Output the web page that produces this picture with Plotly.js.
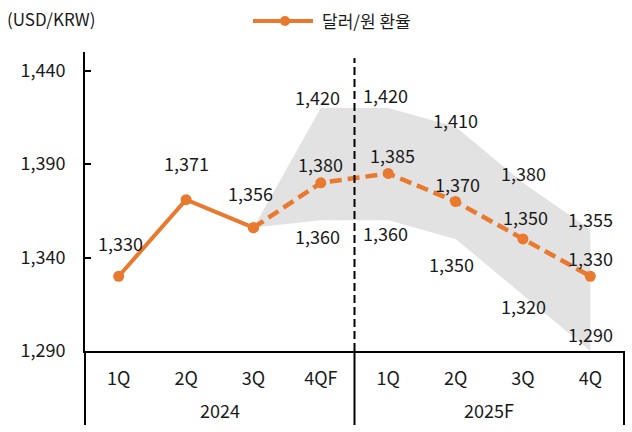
<!DOCTYPE html>
<html>
<head>
<meta charset="utf-8">
<script src="https://cdn.plot.ly/plotly-3.0.1.min.js"></script>
<style>html,body{margin:0;padding:0;background:#fff;}#chart{width:632px;height:432px;}</style>
</head>
<body>
<div id="chart"></div>
<script>
// ---- data ----
const quarters = ["1Q", "2Q", "3Q", "4QF", "1Q", "2Q", "3Q", "4Q"];
const years = ["2024", "2025F"];
const seriesName = "달러/원 환율";
const actualIdx = [0, 1, 2];
const actualRate = [1330, 1371, 1356];
const forecastIdx = [2, 3, 4, 5, 6, 7];
const forecastRate = [1356, 1380, 1385, 1370, 1350, 1330];
const bandUpper = [1356, 1420, 1420, 1410, 1380, 1355];
const bandLower = [1356, 1360, 1360, 1350, 1320, 1290];
const yTicks = [1290, 1340, 1390, 1440];

// ---- styling ----
const ORANGE = "#E8792F";
const FONT = "Noto Sans CJK KR, Noto Sans, sans-serif";
const FS = 18;
const TXT = "#1a1a1a";
// pixel offsets for labels (style only)
const rateLabelShift = [33, 37, 35, 19, 18, 18, 22, 18];
const rateLabelXShift = [2, 0, -3, 0, 4, 2, 3, 0];
const upperLabelShift = [null, 11, 13, 7, 10, 11];
const upperLabelXShift = [null, -3, -3, 0, 1, 0];
const lowerLabelShift = [null, -16, -13, -25, -11, 17];
const lowerLabelXShift = [null, -3, -3, -4, 1, 0];

const fmt = v => v.toLocaleString("en-US");

const traces = [
  { x: forecastIdx, y: bandLower, mode: "lines", line: {width: 0}, hoverinfo: "skip", showlegend: false },
  { x: forecastIdx, y: bandUpper, mode: "lines", line: {width: 0}, fill: "tonexty", fillcolor: "#E2E2E2", hoverinfo: "skip", showlegend: false },
  { x: forecastIdx, y: forecastRate, mode: "lines+markers", line: {color: ORANGE, width: 4.5, dash: "12px,6px"}, marker: {color: ORANGE, size: 11}, showlegend: false },
  { x: actualIdx, y: actualRate, name: seriesName, mode: "lines+markers", line: {color: ORANGE, width: 4}, marker: {color: ORANGE, size: 11}, showlegend: false }
];

const PT = 52, PB = 351, PH = PB - PT;
const px = v => (v - 85) / 539;
const py = v => (PB - v) / PH;

const annotations = [];
const allIdx = actualIdx.concat(forecastIdx.slice(1));
const allRate = actualRate.concat(forecastRate.slice(1));
allIdx.forEach((xi, i) => {
  annotations.push({ x: xi, y: allRate[i], text: fmt(allRate[i]), showarrow: false, xref: "x", yref: "y",
    yshift: rateLabelShift[i], xshift: rateLabelXShift[i], font: {size: FS, color: TXT, family: FONT} });
});
forecastIdx.forEach((xi, i) => {
  if (i === 0) return;
  annotations.push({ x: xi, y: bandUpper[i], text: fmt(bandUpper[i]), showarrow: false, xref: "x", yref: "y",
    yshift: upperLabelShift[i], xshift: upperLabelXShift[i], font: {size: FS, color: TXT, family: FONT} });
  annotations.push({ x: xi, y: bandLower[i], text: fmt(bandLower[i]), showarrow: false, xref: "x", yref: "y",
    yshift: lowerLabelShift[i], xshift: lowerLabelXShift[i], font: {size: FS, color: TXT, family: FONT} });
});
years.forEach((yr, i) => {
  annotations.push({ x: 0.25 + 0.5 * i, y: py(410), xref: "paper", yref: "paper", text: yr, showarrow: false,
    xanchor: "center", yanchor: "middle", font: {size: FS, color: TXT, family: FONT} });
});
// y-axis unit label
annotations.push({ x: px(5), y: py(18), xref: "paper", yref: "paper", text: "(USD/KRW)", showarrow: false,
  xanchor: "left", yanchor: "middle", font: {size: FS - 1, color: TXT, family: FONT} });
// custom legend text
annotations.push({ x: px(320), y: py(20), xref: "paper", yref: "paper", text: seriesName, showarrow: false,
  xanchor: "left", yanchor: "middle", font: {size: FS - 1, color: TXT, family: FONT} });

const shapes = [
  { type: "line", xref: "paper", yref: "paper", x0: 0, x1: 0, y0: py(425), y1: 0, line: {color: "#000", width: 2} },
  { type: "line", xref: "paper", yref: "paper", x0: 0.5, x1: 0.5, y0: py(425), y1: 0, line: {color: "#000", width: 2} },
  { type: "line", xref: "paper", yref: "paper", x0: 1, x1: 1, y0: py(425), y1: 0, line: {color: "#000", width: 2} },
  { type: "line", xref: "paper", yref: "paper", x0: 0.5, x1: 0.5, y0: 0, y1: py(58), line: {color: "#000", width: 2, dash: "8px,4px"} },
  // legend symbol
  { type: "line", xref: "paper", yref: "paper", x0: px(253), x1: px(313), y0: py(21), y1: py(21), line: {color: ORANGE, width: 4} },
  { type: "circle", xref: "paper", yref: "paper", x0: px(280), x1: px(290), y0: py(26), y1: py(16), fillcolor: ORANGE, line: {width: 0} }
];

const layout = {
  width: 632, height: 432,
  margin: {l: 85, r: 8, t: PT, b: 432 - PB},
  paper_bgcolor: "#fff", plot_bgcolor: "#fff",
  font: {family: FONT, size: FS, color: TXT},
  showlegend: false,
  xaxis: {
    range: [-0.5, 7.5], tickmode: "array", tickvals: quarters.map((q, i) => i), ticktext: quarters,
    showgrid: false, zeroline: false, showline: true, linecolor: "#000", linewidth: 2,
    ticks: "", ticklabelstandoff: 10, tickfont: {size: FS, family: FONT, color: TXT}, fixedrange: true
  },
  yaxis: {
    range: [1290, 1450], tickmode: "array", tickvals: yTicks, ticktext: yTicks.map(fmt),
    showgrid: false, zeroline: false, showline: true, linecolor: "#000", linewidth: 2,
    ticks: "inside", ticklen: 6, tickwidth: 2, tickcolor: "#000", ticklabelstandoff: 14,
    tickfont: {size: FS, family: FONT, color: TXT}
  },
  annotations: annotations,
  shapes: shapes
};

Plotly.newPlot("chart", traces, layout, {displayModeBar: false, staticPlot: true});
</script>
</body>
</html>
